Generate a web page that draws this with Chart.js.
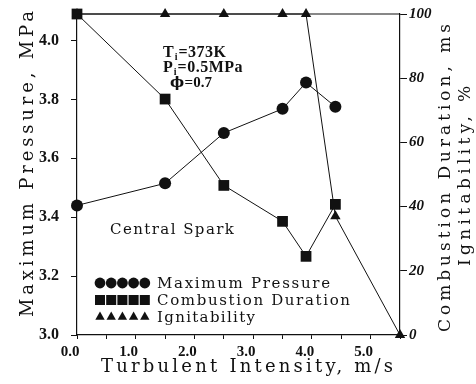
<!DOCTYPE html>
<html>
<head>
<meta charset="utf-8">
<script src="https://cdn.jsdelivr.net/npm/chart.js@4.4.1/dist/chart.umd.min.js"></script>
<style>
  html, body { margin: 0; padding: 0; background: #fff; }
  #wrap { width: 476px; height: 384px; }
</style>
</head>
<body>
<div id="wrap"><canvas id="chart"></canvas></div>
<script>
// ─── Data ────────────────────────────────────────────────────────────
const speed = [0.0, 1.5, 2.5, 3.5, 3.9, 4.4];                 // m/s
const maxPressure = [3.44, 3.515, 3.686, 3.768, 3.857, 3.775]; // MPa
const duration = [100, 73.5, 46.6, 35.4, 24.5, 40.7];          // ms
const ignitSpeed = [0.0, 1.5, 2.5, 3.5, 3.9, 4.4, 5.5];
const ignitability = [100, 100, 100, 100, 100, 37, 0];         // %

const xTickLabels = ['0.0', '1.0', '2.0', '3.0', '4.0', '5.0'];
const pressureTicks = [3.0, 3.2, 3.4, 3.6, 3.8, 4.0];
const percentTicks = [0, 20, 40, 60, 80, 100];

const seriesLabels = ['Maximum Pressure', 'Combustion Duration', 'Ignitability'];

const SERIF = '"Liberation Serif", "DejaVu Serif", serif';
const WIDE = '"DejaVu Serif", serif';
const INK = '#111';

// draw text stretched to a given width (the scan is letter-spaced)
function spacedText(ctx, text, cx, cy, width, rot) {
    ctx.save();
    ctx.translate(cx, cy);
    ctx.rotate(rot || 0);
    ctx.letterSpacing = '0px';
    const w = ctx.measureText(text).width;
    const ls = (width - w) / Math.max(1, text.length - 1);
    ctx.letterSpacing = ls.toFixed(2) + 'px';
    ctx.textAlign = 'left';
    ctx.textBaseline = 'middle';
    ctx.fillText(text, -width / 2, 0);
    ctx.restore();
}

// text with subscript pieces: [[str, isSub, font?], ...]
function subText(ctx, parts, x, y, size) {
    let cx = x;
    parts.forEach(([s, sub, fam]) => {
        ctx.font = `bold ${sub ? size - 6 : size}px ${fam || SERIF}`;
        ctx.fillText(s, cx, sub ? y + 4 : y);
        cx += ctx.measureText(s).width + 0.5;
    });
}

// ─── Frame, titles, notes and legend ─────────────────────────────────
const decorations = {
    id: 'decorations',
    afterDraw(chart) {
        const ctx = chart.ctx;
        const a = chart.chartArea;
        ctx.save();
        ctx.strokeStyle = INK;
        ctx.lineWidth = 1.2;
        ctx.beginPath();
        ctx.moveTo(a.left, a.top);
        ctx.lineTo(a.right, a.top);
        ctx.stroke();

        ctx.fillStyle = INK;
        ctx.letterSpacing = '0px';

        // axis titles
        ctx.font = `18px ${WIDE}`;
        spacedText(ctx, 'Maximum Pressure, MPa', 28, 164, 306, -Math.PI / 2);
        spacedText(ctx, 'Turbulent Intensity, m/s', 247, 367, 292, 0);
        ctx.font = `17px ${WIDE}`;
        spacedText(ctx, 'Combustion Duration, ms', 446, 178, 308, -Math.PI / 2);
        spacedText(ctx, 'Ignitability, %', 466, 176, 180, -Math.PI / 2);

        // conditions
        ctx.textAlign = 'left';
        ctx.textBaseline = 'middle';
        ctx.letterSpacing = '0.5px';
        subText(ctx, [['T', false], ['i', true], ['=373K', false]], 163, 53, 16);
        subText(ctx, [['P', false], ['i', true], ['=0.5MPa', false]], 163, 68, 16);
        ctx.letterSpacing = '0px';
        subText(ctx, [['\u03D5', false, WIDE], ['=0.7', false]], 170, 83, 15);

        ctx.font = `15px ${WIDE}`;
        spacedText(ctx, 'Central Spark', 172, 230, 124, 0);

        // legend: five markers then label
        const widths = [173, 193, 98];
        chart.data.datasets.forEach((ds, i) => {
            const y = 283 + i * 17;
            for (let k = 0; k < 5; k++) {
                ctx.fillStyle = INK;
                Chart.helpers.drawPoint(ctx, {
                    pointStyle: ds.pointStyle,
                    radius: ds.pointStyle === 'rect' ? 7.1 : 5.4,
                    rotation: 0,
                    borderWidth: 0
                }, 100 + k * 11.2, y);
            }
            ctx.font = `15px ${WIDE}`;
            spacedText(ctx, ds.label, 157 + widths[i] / 2, y + 1, widths[i], 0);
        });
        ctx.restore();
    }
};

const lineStyle = {
    borderColor: INK,
    backgroundColor: INK,
    borderWidth: 1,
    pointBorderWidth: 0,
    clip: false,
    tension: 0
};

const noPad = s => { s.paddingTop = 0; s.paddingBottom = 0; };

new Chart(document.getElementById('chart'), {
    type: 'line',
    data: {
        datasets: [
            Object.assign({
                label: seriesLabels[0],
                data: speed.map((x, i) => ({ x: x, y: maxPressure[i] })),
                yAxisID: 'y',
                pointStyle: 'circle',
                pointRadius: 6
            }, lineStyle),
            Object.assign({
                label: seriesLabels[1],
                data: speed.map((x, i) => ({ x: x, y: duration[i] })),
                yAxisID: 'y1',
                pointStyle: 'rect',
                pointRadius: 7.6
            }, lineStyle),
            Object.assign({
                label: seriesLabels[2],
                data: ignitSpeed.map((x, i) => ({ x: x, y: ignitability[i] })),
                yAxisID: 'y1',
                pointStyle: 'triangle',
                pointRadius: 6
            }, lineStyle)
        ]
    },
    options: {
        responsive: true,
        maintainAspectRatio: false,
        animation: false,
        layout: { padding: { top: 14, left: 0, right: 0, bottom: 0 } },
        plugins: {
            legend: { display: false },
            tooltip: { enabled: false }
        },
        scales: {
            x: {
                type: 'linear',
                min: 0,
                max: 5.5,
                afterFit: s => { s.height = 49; s.paddingLeft = 0; s.paddingRight = 0; },
                border: { color: INK, width: 1.2 },
                grid: { drawOnChartArea: false, color: INK, tickLength: 4 },
                ticks: {
                    stepSize: 0.5,
                    autoSkip: false,
                    maxRotation: 0,
                    labelOffset: -7,
                    padding: 4,
                    color: INK,
                    font: { family: SERIF, size: 15, weight: 'bold' },
                    callback: v => Number.isInteger(v) ? xTickLabels[v] : ''
                }
            },
            y: {
                position: 'left',
                min: 3.0,
                max: 4.09,
                afterFit: s => { s.width = 77; noPad(s); },
                afterBuildTicks: s => { s.ticks = pressureTicks.map(v => ({ value: v })); },
                border: { color: INK, width: 1.2 },
                grid: { drawOnChartArea: false, color: INK, tickLength: 6 },
                ticks: {
                    padding: 12,
                    color: INK,
                    font: { family: SERIF, size: 16, weight: 'bold' },
                    callback: v => v.toFixed(1)
                }
            },
            y1: {
                position: 'right',
                min: 0,
                max: 100,
                afterFit: s => { s.width = 76; noPad(s); },
                afterBuildTicks: s => { s.ticks = percentTicks.map(v => ({ value: v })); },
                border: { color: INK, width: 1.2 },
                grid: { drawOnChartArea: false, color: INK, tickLength: 7 },
                ticks: {
                    padding: 2,
                    color: INK,
                    font: { family: SERIF, size: 15, weight: 'bold', style: 'italic' }
                }
            }
        }
    },
    plugins: [decorations]
});
</script>
</body>
</html>
